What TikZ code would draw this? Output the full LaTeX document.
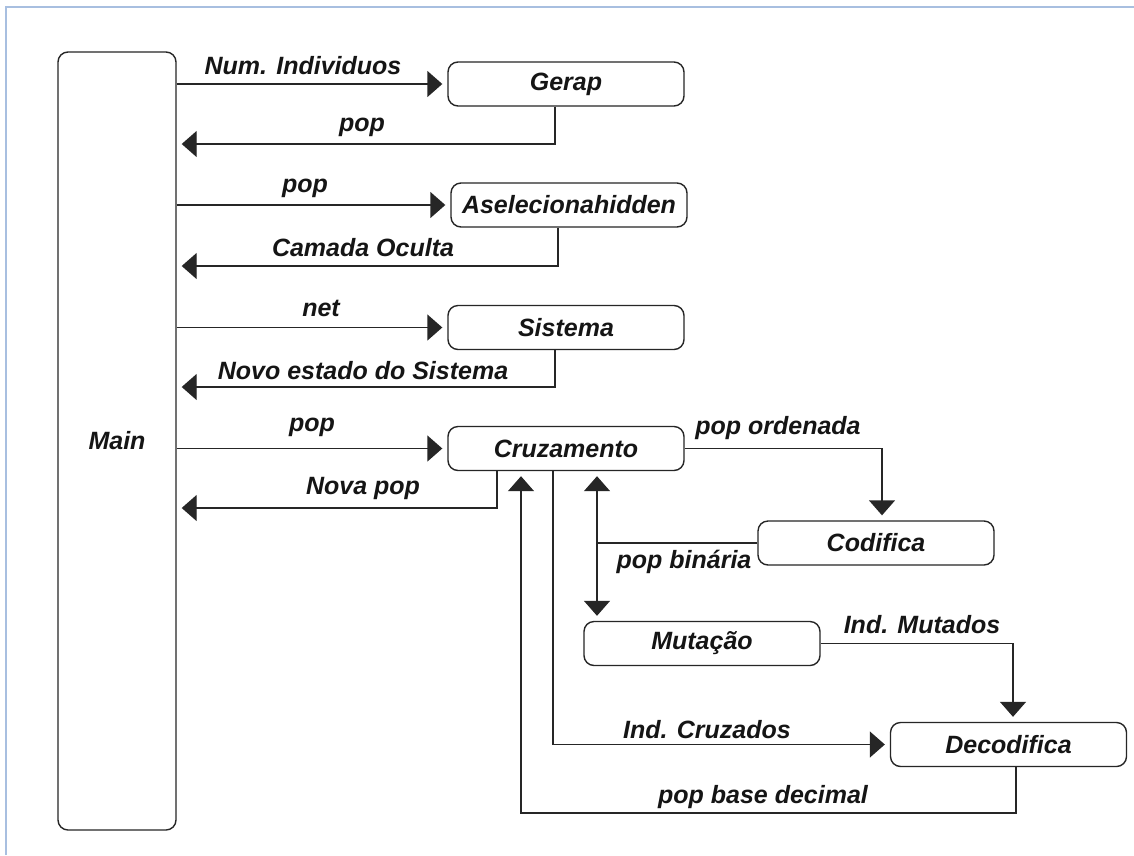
\documentclass[tikz,border=0pt]{standalone}
\usepackage{fontspec}
\setmainfont{Liberation Sans}
\usetikzlibrary{arrows.meta}
\definecolor{framec}{HTML}{A8BFE0}
\definecolor{linec}{HTML}{262626}
\definecolor{txtc}{HTML}{151515}
\begin{document}
\begin{tikzpicture}[x=1pt,y=-1pt,
  box/.style={draw=linec, line width=1.4pt, rounded corners=10pt, minimum width=236pt, minimum height=44pt, inner sep=0pt, text=txtc, font=\fontsize{25}{29}\selectfont\bfseries\itshape},
  lbl/.style={inner sep=0pt, text=txtc, font=\fontsize{25}{29}\selectfont\bfseries\itshape},
  conn/.style={draw=linec, line width=1.4pt},
  arr/.style={conn, -{Triangle[length=15pt,width=26pt]}, shorten >=5pt},
  arrboth/.style={conn, {Triangle[length=15pt,width=26pt]}-{Triangle[length=15pt,width=26pt]}, shorten >=5pt, shorten <=5pt}
]
\useasboundingbox (0,0) rectangle (1134,855);
\fill[white] (0,0) rectangle (1134,855);
\draw[framec, line width=2.2pt] (6,855) -- (6,7) -- (1134,7);

% boxes
\node[box, minimum width=118pt, minimum height=778pt] (main) at (117,441) {Main};
\node[box] (gerap) at (566,84) {Gerap};
\node[box] (asel) at (569,205) {Aselecionahidden};
\node[box] (sist) at (566,327.5) {Sistema};
\node[box] (cruz) at (566,448.5) {Cruzamento};
\node[box] (codi) at (876,543) {Codifica};
\node[box] (muta) at (702,643.5) {Mutação};
\node[box] (deco) at (1008.5,744.5) {Decodifica};

% turn points
\coordinate (g1) at (555,144);
\coordinate (a1) at (558,266);
\coordinate (s1) at (555,387);
\coordinate (c1) at (497,508);
\coordinate (o1) at (882,448.5);
\coordinate (b1) at (597,543);
\coordinate (m1) at (1013,643.5);
\coordinate (ic) at (553,744.5);
\coordinate (pb1) at (1016,813);
\coordinate (pb2) at (521,813);

% connectors
\draw[arr] (main.east |- gerap.west) -- (gerap.west);
\draw[arr] (gerap.south -| g1) -- (g1) -- (main.east |- g1);
\draw[arr] (main.east |- asel.west) -- (asel.west);
\draw[arr] (asel.south -| a1) -- (a1) -- (main.east |- a1);
\draw[arr] (main.east |- sist.west) -- (sist.west);
\draw[arr] (sist.south -| s1) -- (s1) -- (main.east |- s1);
\draw[arr] (main.east |- cruz.west) -- (cruz.west);
\draw[arr] (cruz.south -| c1) -- (c1) -- (main.east |- c1);
\draw[arr] (cruz.east) -- (o1) -- (codi.north -| o1);
\draw[conn] (codi.west) -- (b1);
\draw[arrboth] (cruz.south -| b1) -- (muta.north -| b1);
\draw[arr] (muta.east) -- (m1) -- (deco.north -| m1);
\draw[arr] (cruz.south -| ic) -- (ic) -- (deco.west);
\draw[arr] (deco.south -| pb1) -- (pb1) -- (pb2) -- (cruz.south -| pb2);

% labels
\node[lbl] (l1) at (303,66) {Num. Individuos};
\node[lbl] (l2) at (362,127) {pop};
\node[lbl] (l3) at (305,188) {pop};
\node[lbl] (l4) at (363,248) {Camada Oculta};
\node[lbl] (l5) at (321,308) {net};
\node[lbl] (l6) at (363,371) {Novo estado do Sistema};
\node[lbl] (l7) at (312,427) {pop};
\node[lbl] (l8) at (363,488) {Nova pop};
\node[lbl] (l9) at (778,428) {pop ordenada};
\node[lbl] (l10) at (684,562) {pop binária};
\node[lbl] (l11) at (922,625) {Ind. Mutados};
\node[lbl] (l12) at (707,730) {Ind. Cruzados};
\node[lbl] (l13) at (763,797) {pop base decimal};
\end{tikzpicture}
\end{document}
